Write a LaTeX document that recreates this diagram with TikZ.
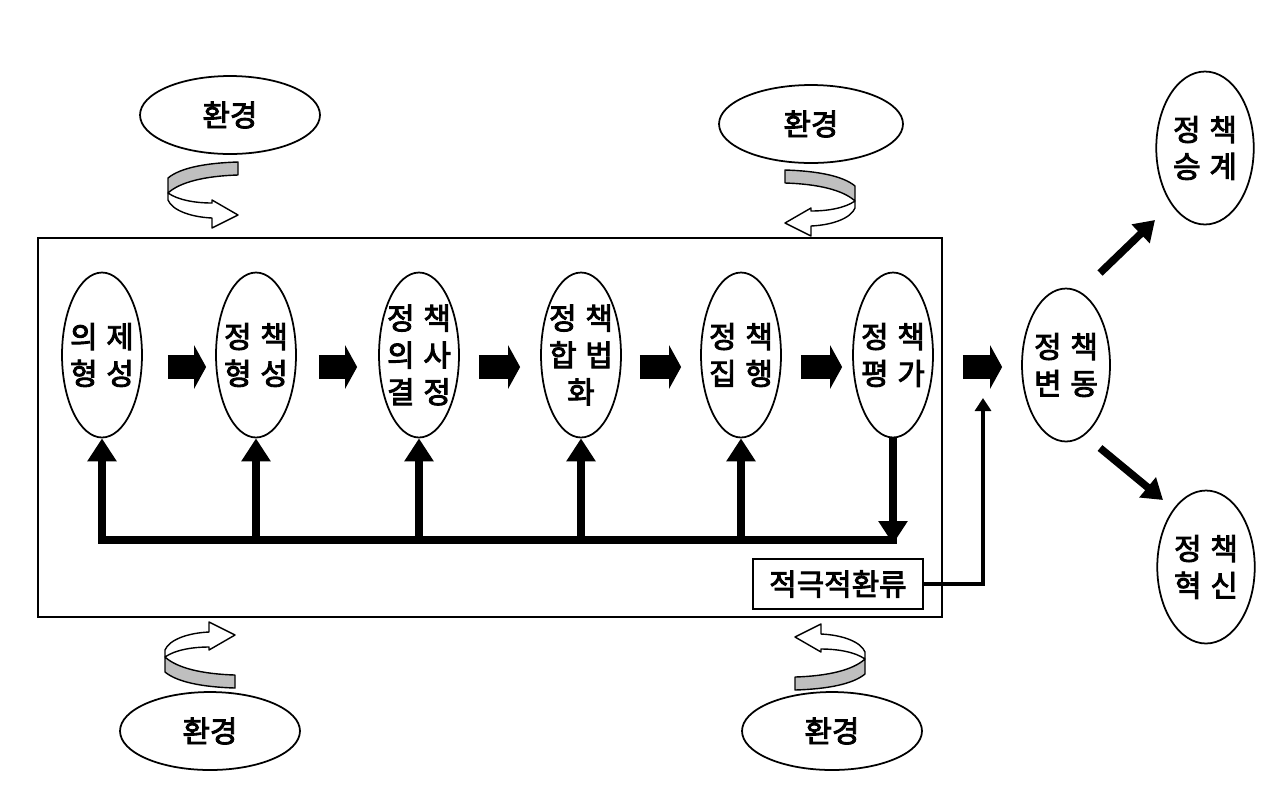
\documentclass[tikz,border=0pt]{standalone}
\usepackage{fontspec}
\newfontfamily\kr{Noto Sans CJK KR}[FakeBold=3]
\usetikzlibrary{shapes.geometric,arrows.meta,calc}
\newcommand\gp{\kern5pt}
\newcommand\envarrow{%
  \filldraw[fill=black!25,draw=black,line width=0.8pt,line join=round]
    (70,0) -- (70,13) .. controls (37,14) and (12,20) .. (0,31) -- (0,16)
    .. controls (12,6) and (37,1) .. (70,0) -- cycle;
  \filldraw[fill=white,draw=black,line width=0.8pt,line join=round]
    (0,31) .. controls (10,38) and (27,41) .. (44,41) -- (44,38) -- (70,53)
    -- (44,66) -- (44,56) .. controls (22,55) and (4,48) .. (0,38) -- cycle;
}
\begin{document}
\begin{tikzpicture}[x=0.02cm,y=-0.02cm,
  txt/.style={font=\kr\fontsize{17}{21}\selectfont},
  stage/.style={ellipse,draw,line width=1pt,minimum width=1.6cm,minimum height=3.3cm,inner xsep=-5pt,inner ysep=0pt,align=center,txt},
  outcome/.style={ellipse,draw,line width=1pt,minimum width=1.95cm,minimum height=3.06cm,inner xsep=-5pt,inner ysep=0pt,align=center,txt},
  env/.style={ellipse,draw,line width=1pt,minimum width=3.6cm,minimum height=1.56cm,inner sep=0pt,txt},
  fat/.style={line width=0.48cm,-{Triangle[width=0.86cm,length=0.24cm]}},
  fbl/.style={line width=0.16cm,line join=miter},
  fbtip/.style={-{Triangle[width=0.56cm,length=0.46cm]}},
  actl/.style={line width=0.09cm,-{Triangle[width=0.32cm,length=0.26cm]}},
  diag/.style={line width=0.15cm,-{Triangle[width=0.5cm,length=0.4cm]}},
  fbox/.style={draw,line width=1pt,minimum width=3.4cm,minimum height=1cm,inner sep=0pt,txt}
]
\useasboundingbox (0,0) rectangle (1280,799);
\fill[white] (0,0) rectangle (1280,799);

% main frame
\draw[line width=1.1pt] (38,238) rectangle (942,617);

% stages
\node[stage] (e1) at (102,355) {의\gp 제\\형\gp 성};
\node[stage] (e2) at (256,355) {정\gp 책\\형\gp 성};
\node[stage] (e3) at (419,355) {정\gp 책\\의\gp 사\\결\gp 정};
\node[stage] (e4) at (581,355) {정\gp 책\\합\gp 법\\화};
\node[stage] (e5) at (741,355) {정\gp 책\\집\gp 행};
\node[stage] (e6) at (893,355) {정\gp 책\\평\gp 가};

\node[outcome,minimum width=1.76cm] (ch) at (1066,365) {정\gp 책\\변\gp 동};
\node[outcome] (su) at (1205,148) {정\gp 책\\승\gp 계};
\node[outcome] (hy) at (1206,567) {정\gp 책\\혁\gp 신};

% environments
\node[env] (v1) at (230,115) {환경};
\node[env,minimum width=3.68cm] (v2) at (811,124) {환경};
\node[env] (v3) at (210,731) {환경};
\node[env] (v4) at (832,731) {환경};

% fat arrows
\draw[fat] ($(e1.east)+(25,12)$) -- ($(e2.west)+(-9,12)$);
\draw[fat] ($(e2.east)+(22,12)$) -- ($(e3.west)+(-21,12)$);
\draw[fat] ($(e3.east)+(19,12)$) -- ($(e4.west)+(-20,12)$);
\draw[fat] ($(e4.east)+(18,12)$) -- ($(e5.west)+(-19,12)$);
\draw[fat] ($(e5.east)+(19,12)$) -- ($(e6.west)+(-10,12)$);
\draw[fat] ($(e6.east)+(29,12)$) -- ($(ch.west)+(-19,2)$);

% feedback bus
\coordinate (bus1) at (102,540);
\coordinate (bus6) at (893,540);
\draw[fbl,{Triangle[width=0.56cm,length=0.46cm]}-] (e1.south) -- (bus1) -- ($(bus6)+(4,0)$);
\draw[fbl,fbtip] (e2 |- bus1) -- (e2.south);
\draw[fbl,fbtip] (e3 |- bus1) -- (e3.south);
\draw[fbl,fbtip] (e4 |- bus1) -- (e4.south);
\draw[fbl,fbtip] (e5 |- bus1) -- (e5.south);
\draw[fbl,fbtip] (e6.south) -- ($(bus6)+(0,4)$);

% active feedback
\node[fbox] (act) at (838,584) {적극적환류};
\coordinate (actend) at (983,398);
\draw[actl] (act.east) -| (actend);

% change outcomes
\draw[diag] ($(ch)+(34,-92)$) -- ($(su)+(-50,72)$);
\draw[diag] ($(ch)+(34,83)$) -- ($(hy)+(-43,-67)$);

% environment curved arrows
\begin{scope}[shift={(168,162)}]\envarrow\end{scope}
\begin{scope}[shift={(855,170)},xscale=-1]\envarrow\end{scope}
\begin{scope}[shift={(165,688)},yscale=-1]\envarrow\end{scope}
\begin{scope}[shift={(865,690)},xscale=-1,yscale=-1]\envarrow\end{scope}
\end{tikzpicture}
\end{document}
